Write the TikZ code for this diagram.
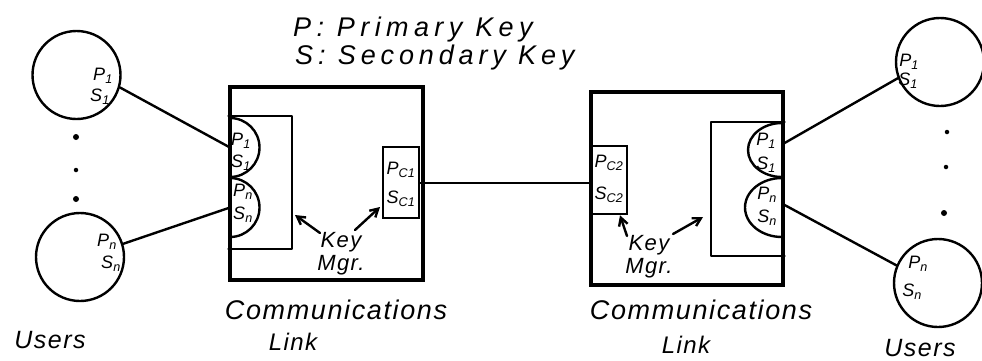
\documentclass[tikz,border=0pt]{standalone}
\usepackage{fontspec}
\setmainfont{Liberation Sans}
\usetikzlibrary{arrows.meta}
\tikzset{
  ink/.style={line width=2.4pt, line cap=round, line join=round},
  user/.style={draw, circle, minimum size=88pt, inner sep=0pt, line width=2.4pt},
  outerbox/.style={draw, rectangle, line width=3.2pt, inner sep=0pt},
  keybox/.style={draw, rectangle, line width=2.6pt, inner sep=0pt},
  hw/.style={font=\itshape\fontsize{#1}{#1}\selectfont\addfontfeatures{LetterSpace=6}, inner sep=0pt},
  ttl/.style={font=\itshape\fontsize{27}{27}\selectfont\addfontfeatures{LetterSpace=#1}, inner sep=0pt, anchor=west},
  lbl/.style={font=\itshape\fontsize{18}{18}\selectfont, inner sep=0pt},
  arr/.style={ink, -{Straight Barb[length=8pt,width=9pt]}},
  dot/.style={fill, circle, inner sep=0pt, minimum size=6pt}
}
\begin{document}
\begin{tikzpicture}[x=1pt,y=-1pt]
\useasboundingbox (0,0) rectangle (982,360);

% title
\node[ttl=20] (t1) at (293,30) {P: Primary Key};
\node[ttl=18] (t2) at (295,58) {S: Secondary Key};

% left users
\node[user] (uL1) at (76.5,75) {};
\node[user] (uL2) at (80,257) {};
\node[lbl] (uL1p) at (103,76) {P\textsubscript{1}};
\node[lbl] (uL1s) at (100,97) {S\textsubscript{1}};
\node[lbl] (uL2p) at (107,242) {P\textsubscript{n}};
\node[lbl] (uL2s) at (111,264) {S\textsubscript{n}};
\node[dot] (dL1) at (76,137) {};
\node[dot, minimum size=4.5pt] (dL2) at (76,170) {};
\node[dot] (dL3) at (76,199) {};
\node[hw=25] (usersL) at (50,340) {Users};

% left comm link
\node[outerbox, minimum width=193pt, minimum height=193pt] (boxL) at (326.5,183.5) {};
\draw[ink] (boxL.west |- 0,116) -- (292,116) -- (292,249) -- (boxL.west |- 0,249);
\coordinate (hL1) at (230,147.5);
\coordinate (hL2) at (230,207.5);
\draw[ink] (230,118) arc[start angle=-90, end angle=90, radius=29.5];
\draw[ink] (230,178) arc[start angle=-90, end angle=90, radius=29.5];
\node[lbl] (hL1p) at (241,141) {P\textsubscript{1}};
\node[lbl] (hL1s) at (241,163) {S\textsubscript{1}};
\node[lbl] (hL2p) at (243,192) {P\textsubscript{n}};
\node[lbl] (hL2s) at (243,215) {S\textsubscript{n}};
\node[keybox, minimum width=36pt, minimum height=71pt] (kL) at (401,182.5) {};
\node[lbl] (kLp) at (401,170) {P\textsubscript{C1}};
\node[lbl] (kLs) at (401,199) {S\textsubscript{C1}};
\node[hw=22, align=center] (kmL) at (341,254) {Key\\[1pt]Mgr.};
\coordinate (aL1s) at (320,233);
\coordinate (aL1e) at (295,215);
\coordinate (aL2s) at (355,230);
\coordinate (aL2e) at (380,207);
\draw[arr] (aL1s) -- (aL1e);
\draw[arr] (aL2s) -- (aL2e);
\node[hw=27] (commL) at (336,310) {Communications};
\node[hw=24] (linkL) at (293,342) {Link};

% connectors left
\draw[ink] (uL1.-16) -- (hL1);
\draw[ink] (uL2.17) -- (hL2);

% middle link
\node[keybox, minimum width=35pt, minimum height=68pt] (kR) at (609.5,180) {};
\draw[ink] (kL.east |- 0,183) -- (kR.west |- 0,183);

% right comm link
\node[outerbox, minimum width=192pt, minimum height=193pt] (boxR) at (687,188.5) {};
\draw[ink] (boxR.east |- 0,122) -- (711,122) -- (711,256) -- (boxR.east |- 0,256);
\coordinate (hR1) at (782,150);
\coordinate (hR2) at (782,207);
\draw[ink] (782,123) arc[start angle=-90, end angle=-270, x radius=34, y radius=27];
\draw[ink] (782,178) arc[start angle=-90, end angle=-270, x radius=37, y radius=29.5];
\node[lbl] (hR1p) at (766,141) {P\textsubscript{1}};
\node[lbl] (hR1s) at (766,165) {S\textsubscript{1}};
\node[lbl] (hR2p) at (767,195) {P\textsubscript{n}};
\node[lbl] (hR2s) at (767,218) {S\textsubscript{n}};
\node[lbl] (kRp) at (609,163) {P\textsubscript{C2}};
\node[lbl] (kRs) at (609,195) {S\textsubscript{C2}};
\node[hw=22, align=center] (kmR) at (649,257) {Key\\[1pt]Mgr.};
\coordinate (aR1s) at (673,234);
\coordinate (aR1e) at (703,217);
\coordinate (aR2s) at (627,236);
\draw[arr] (aR1s) -- (aR1e);
\draw[arr] (aR2s) -- (kR.south -| 620,0);
\node[hw=27] (commR) at (701,310) {Communications};
\node[hw=24] (linkR) at (686,345) {Link};

% right users
\node[user] (uR1) at (940,62) {};
\node[user] (uR2) at (938,283) {};
\node[lbl] (uR1p) at (909,62) {P\textsubscript{1}};
\node[lbl] (uR1s) at (908,81) {S\textsubscript{1}};
\node[lbl] (uR2p) at (918,264) {P\textsubscript{n}};
\node[lbl] (uR2s) at (912,292) {S\textsubscript{n}};
\node[dot, minimum size=4.5pt] (dR1) at (947,132) {};
\node[dot, minimum size=4.5pt] (dR2) at (946,167) {};
\node[dot] (dR3) at (944,213) {};
\node[hw=25] (usersR) at (920,348) {Users};

% connectors right
\draw[ink] (boxR.east |- 0,143) -- (uR1.-159);
\draw[ink] (boxR.east |- 0,205) -- (uR2.157);
\end{tikzpicture}
\end{document}
